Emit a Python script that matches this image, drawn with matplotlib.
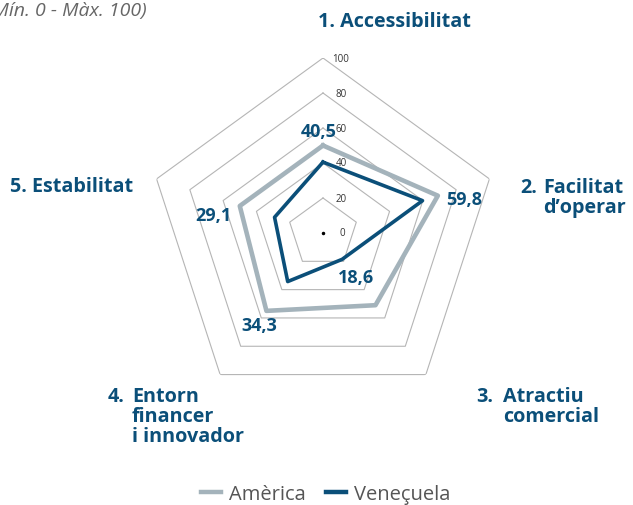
import numpy as np
import matplotlib
matplotlib.use("Agg")
import matplotlib.pyplot as plt

categories = ["1. Accessibilitat", "2. Facilitat\nd’operar", "3. Atractiu\ncomercial",
              "4. Entorn\nfinancer\ni innovador", "5. Estabilitat"]
america = [50, 69, 51, 55, 50]
venezuela = [40.5, 59.8, 18.6, 34.3, 29.1]
value_labels = ["40,5", "59,8", "18,6", "34,3", "29,1"]
ticks = [0, 20, 40, 60, 80, 100]
series_names = ["Amèrica", "Veneçuela"]

BLUE = "#0b4f79"
GREY = "#a4b3bb"
plt.rcParams['font.family'] = ['Open Sans', 'DejaVu Sans']

W, H = 633, 506
fig = plt.figure(figsize=(W / 100, H / 100), dpi=100)
cx, cy, R = 323, 234, 175
ax = fig.add_axes([(cx - R) / W, 1 - (cy + R) / H, 2 * R / W, 2 * R / H], projection='polar')
ax.set_theta_offset(np.pi / 2)
ax.set_theta_direction(-1)
ax.set_ylim(0, 100)
ax.set_axis_off()

n = len(categories)
ang = np.arange(n) * 2 * np.pi / n
angc = np.append(ang, ang[0])

for t in ticks[1:]:
    ax.plot(angc, [t] * (n + 1), color="#b5b5b5", lw=0.8, zorder=1)
for t in ticks:
    ax.annotate(str(t), xy=(0, t), xytext=(18 if t else 19, 0), textcoords='offset pixels',
                fontsize=7, color="#333333", ha='center', va='center', zorder=2)
ax.plot([0], [0], marker='o', ms=1.5, color="black")

ax.plot(angc, america + [america[0]], color=GREY, lw=3.3, zorder=3, label=series_names[0])
ax.plot(angc, venezuela + [venezuela[0]], color=BLUE, lw=2.6, zorder=4, label=series_names[1])

offsets = [(-4, 31), (42, 2), (14, -18), (-28, -43), (-61, 2)]
for a, v, lab, off in zip(ang, venezuela, value_labels, offsets):
    ax.annotate(lab, xy=(a, v), xytext=off, textcoords='offset pixels', ha='center', va='center',
                fontsize=13, fontweight='bold', color=BLUE, zorder=5)

def ftext(x, y, s):
    fig.text(x / W, 1 - y / H, s, fontsize=14.2, fontweight='bold', color=BLUE,
             va='baseline', ha='left')

def block(xnum, xrest, y0, label, pitch=20):
    num, rest = label.split(" ", 1)
    ftext(xnum, y0, num)
    for i, line in enumerate(rest.split("\n")):
        ftext(xrest, y0 + i * pitch, line)

ftext(318, 27, categories[0])
block(520, 543, 193, categories[1])
block(476, 503, 402, categories[2])
block(108, 132, 402, categories[3])
ftext(10, 192, categories[4])

fig.text(147 / W, 1 - 11 / H, "(Mín. 0 - Màx. 100)", fontsize=14, style='italic',
         color="#666666", ha='right', va='center')

leg = fig.legend(loc='center', bbox_to_anchor=(326 / W, 1 - 495 / H), ncol=2, frameon=False,
                 fontsize=14.5, handlelength=1.0, handletextpad=0.4, columnspacing=1.0)
for t in leg.get_texts():
    t.set_color("#555555")
for l in leg.get_lines():
    l.set_linewidth(3.2)

fig.savefig("out.png", dpi=100)
